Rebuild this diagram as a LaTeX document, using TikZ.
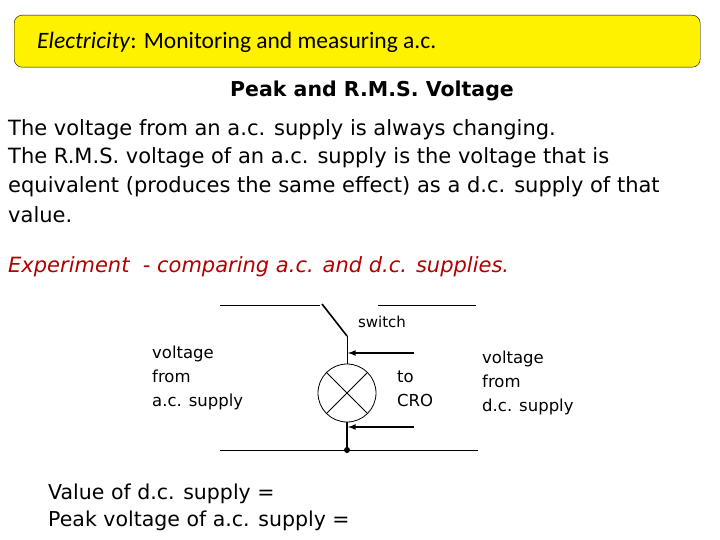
\documentclass[tikz,border=0pt]{standalone}
\usepackage{fontspec}
\setmainfont{DejaVu Sans}
\newfontfamily\titlefont{Carlito}
\begin{document}
\begin{tikzpicture}[x=1pt,y=-1pt,
  txt/.style={anchor=west,inner sep=0pt,font=\fontsize{21}{24}\selectfont},
  small/.style={anchor=west,inner sep=0pt,align=left,font=\fontsize{16.5}{24}\selectfont},
  wire/.style={line width=0.8pt},
  thick wire/.style={line width=1.6pt}]
\useasboundingbox (0,0) rectangle (720,540);
\node[draw=black,fill=yellow,rounded corners=8pt,minimum width=686pt,minimum height=52pt,anchor=north west,inner sep=0pt] (tbox) at (14,15) {};
\node[anchor=west,inner sep=0pt,font=\titlefont\fontsize{23.5}{26}\selectfont] (title) at (37,42) {\textit{Electricity}: Monitoring and measuring a.c.};
\node[inner sep=0pt,font=\bfseries\fontsize{20.5}{24}\selectfont] (head) at (372,91) {Peak and R.M.S. Voltage};
\node[txt] (l1) at (8,130) {The voltage from an a.c. supply is always changing.};
\node[txt] (l2) at (8,158) {The R.M.S. voltage of an a.c. supply is the voltage that is};
\node[txt] (l3) at (8,187) {equivalent (produces the same effect) as a d.c. supply of that};
\node[txt] (l4) at (8,215) {value.};
\node[txt,text=red!70!black,font=\itshape\fontsize{21}{24}\selectfont] (exp) at (8,267) {Experiment\ \ - comparing a.c. and d.c. supplies.};
% circuit
\coordinate (tl1) at (220,305); \coordinate (tl2) at (320,305);
\coordinate (tr1) at (378,305); \coordinate (tr2) at (476,305);
\coordinate (piv) at (347,336);
\coordinate (bl) at (220,450); \coordinate (br) at (478,450);
\coordinate (dot) at (347,450);
\node[draw,circle,minimum size=58pt,inner sep=0pt,wire] (lamp) at (347,393) {};
\draw[wire] (tl1) -- (tl2);
\draw[wire] (tr1) -- (tr2);
\draw[thick wire] (piv) -- (322,304);
\draw[wire] (piv) -- (lamp.north);
\draw[thick wire] (lamp.south) -- (dot);
\draw[wire] (lamp.north west) -- (lamp.south east);
\draw[wire] (lamp.north east) -- (lamp.south west);
\draw[wire] (bl) -- (br);
\fill (dot) circle (3pt);
\coordinate (a1) at (414,353); \coordinate (a1e) at (348,353);
\coordinate (a2) at (414,427); \coordinate (a2e) at (348,427);
\draw[thick wire,-latex] (a1) -- (a1e);
\draw[thick wire,-latex] (a2) -- (a2e);
\node[inner sep=0pt,font=\fontsize{15}{17}\selectfont] (sw) at (382,322) {switch};
\node[small] (ac) at (152,378) {voltage\\from\\a.c. supply};
\node[small] (cro) at (397,389) {to\\CRO};
\node[small] (dc) at (482,383) {voltage\\from\\d.c. supply};
\node[txt,font=\fontsize{20.5}{24}\selectfont] (v1) at (48,494) {Value of d.c. supply =};
\node[txt,font=\fontsize{20.5}{24}\selectfont] (v2) at (48,521) {Peak voltage of a.c. supply =};
\end{tikzpicture}
\end{document}
